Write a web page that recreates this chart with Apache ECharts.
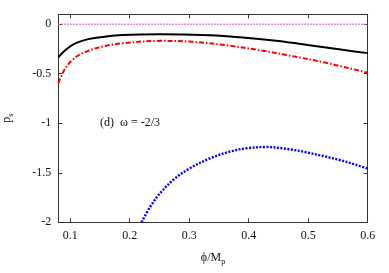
<!DOCTYPE html>
<html>
<head>
<meta charset="utf-8">
<script src="https://cdn.jsdelivr.net/npm/echarts@6/dist/echarts.min.js"></script>
<style>html,body{margin:0;padding:0;background:#fff;}#c{width:389px;height:273px;}</style>
</head>
<body>
<div id="c"></div>
<script>
var xTicks = [0.1, 0.2, 0.3, 0.4, 0.5, 0.6];
var yTicks = [-2, -1.5, -1, -0.5, 0];

var magentaX = [0.08, 0.6];
var magentaY = [0, 0];

var blackX = [0.08, 0.0874, 0.0958, 0.104, 0.115, 0.132, 0.1545, 0.188, 0.25, 0.334, 0.39, 0.446, 0.502, 0.558, 0.6];
var blackY = [-0.336, -0.286, -0.242, -0.208, -0.178, -0.148, -0.128, -0.109, -0.101, -0.111, -0.134, -0.168, -0.212, -0.259, -0.292];

var redX = [0.08, 0.0874, 0.0958, 0.104, 0.115, 0.132, 0.1545, 0.188, 0.253, 0.306, 0.362, 0.418, 0.474, 0.530, 0.6];
var redY = [-0.595, -0.494, -0.41, -0.36, -0.31, -0.265, -0.225, -0.192, -0.168, -0.178, -0.212, -0.262, -0.323, -0.39, -0.49];

var blueX = [0.22, 0.234, 0.251, 0.273, 0.301, 0.335, 0.368, 0.396, 0.430, 0.469, 0.497, 0.525, 0.553, 0.581, 0.6];
var blueY = [-2, -1.848, -1.707, -1.573, -1.455, -1.354, -1.287, -1.253, -1.240, -1.263, -1.294, -1.331, -1.371, -1.421, -1.458];

function zip(xs, ys) { return xs.map(function (x, i) { return [x, ys[i]]; }); }

var FONT = '"Liberation Serif", "DejaVu Serif", serif';
var axisCol = '#333';
var rich = {a: {fontFamily: FONT, fontSize: 12, color: '#111'}, s: {fontFamily: FONT, fontSize: 8, color: '#111', padding: [8, 0, 0, 0]}};

function xAxisCfg(pos, showLabels, name) {
  return {
    type: 'value', position: pos, min: 0.08, max: 0.6,
    name: name || '', nameLocation: 'middle', nameGap: 28,
    nameTextStyle: {fontFamily: FONT, fontSize: 12, color: '#111', rich: rich},
    axisLine: {show: true, onZero: false, lineStyle: {color: axisCol, width: 1}},
    axisTick: {show: true, inside: true, length: 4, customValues: xTicks, lineStyle: {color: axisCol}},
    axisLabel: {show: showLabels, customValues: xTicks, margin: 8, fontFamily: FONT, fontSize: 12, color: '#111',
      formatter: function (v) { return String(v); }},
    splitLine: {show: false}
  };
}
function yAxisCfg(pos, showLabels, name) {
  return {
    type: 'value', position: pos, min: -2, max: 0.1,
    name: name || '', nameLocation: 'middle', nameGap: 43, nameRotate: 90,
    nameTextStyle: {fontFamily: FONT, fontSize: 12, color: '#111', rich: rich},
    axisLine: {show: true, onZero: false, lineStyle: {color: axisCol, width: 1}},
    axisTick: {show: true, inside: true, length: 4, customValues: yTicks, lineStyle: {color: axisCol}},
    axisLabel: {show: showLabels, customValues: yTicks, margin: 7, fontFamily: FONT, fontSize: 12, color: '#111',
      formatter: function (v) { return String(v); }},
    splitLine: {show: false}
  };
}

var chart = echarts.init(document.getElementById('c'), null, {renderer: 'canvas'});
chart.setOption({
  animation: false,
  backgroundColor: '#fff',
  grid: {left: 58.3, right: 21.3, top: 14.3, bottom: 50.7, containLabel: false, outerBoundsMode: 'none'},
  xAxis: [xAxisCfg('bottom', true, '{a|ϕ/M}{s|p}'), xAxisCfg('top', false)],
  yAxis: [yAxisCfg('left', true, '{a|p}{s|s}'), yAxisCfg('right', false)],
  graphic: [{
    type: 'text', left: 100, top: 117,
    style: {text: '(d)  ω = -2/3', font: '12px ' + FONT, fill: '#111'}
  }],
  series: [
    {type: 'line', data: zip(magentaX, magentaY), showSymbol: false, smooth: false,
      lineStyle: {color: '#e060e0', width: 1.6, type: [1.5, 1.5]}},
    {type: 'line', data: zip(blackX, blackY), showSymbol: false, smooth: 0.35,
      lineStyle: {color: '#000', width: 2}},
    {type: 'line', data: zip(redX, redY), showSymbol: false, smooth: 0.35,
      lineStyle: {color: '#ff0000', width: 2, type: [5, 2, 1.5, 2]}},
    {type: 'line', data: zip(blueX, blueY), showSymbol: false, smooth: 0.35,
      lineStyle: {color: '#0000ff', width: 2.4, type: [2, 1.5]}}
  ]
});
</script>
</body>
</html>
